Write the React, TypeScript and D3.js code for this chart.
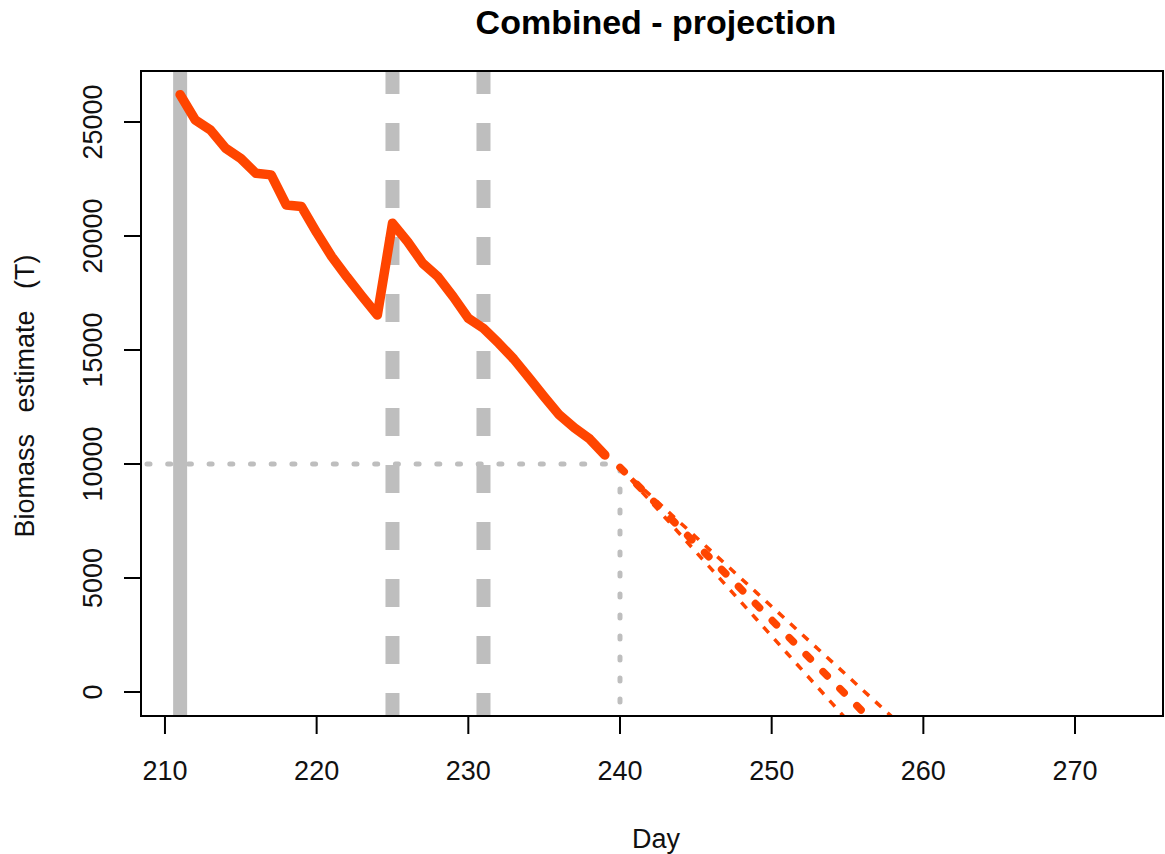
import React from "react";
import * as d3 from "d3";

// ---- data ----
const obsDays = [211, 212, 213, 214, 215, 216, 217, 218, 219, 220, 221, 222, 223, 224, 225, 226, 227, 228, 229, 230, 231, 232, 233, 234, 235, 236, 237, 238, 239];
const obsBiomass = [26200, 25090, 24650, 23850, 23400, 22750, 22680, 21360, 21290, 20150, 19090, 18200, 17350, 16530, 20560, 19750, 18800, 18210, 17340, 16390, 15950, 15300, 14600, 13780, 12950, 12150, 11580, 11100, 10390];

const projDaysFast = [240, 241, 242, 243, 244, 245, 246, 247, 248, 249, 250, 251, 252, 253, 254, 255];
const projFast = [9850, 9110, 8370, 7630, 6890, 6150, 5410, 4670, 3930, 3190, 2450, 1710, 970, 230, -510, -1250];

const projDaysMid = [240, 241, 242, 243, 244, 245, 246, 247, 248, 249, 250, 251, 252, 253, 254, 255, 256, 257];
const projMid = [9850, 9180, 8510, 7840, 7170, 6500, 5840, 5170, 4500, 3830, 3160, 2490, 1820, 1150, 480, -190, -860, -1530];

const projDaysSlow = [240, 241, 242, 243, 244, 245, 246, 247, 248, 249, 250, 251, 252, 253, 254, 255, 256, 257, 258, 259];
const projSlow = [9850, 9240, 8630, 8020, 7410, 6800, 6190, 5580, 4970, 4360, 3750, 3140, 2530, 1920, 1310, 700, 90, -520, -1130, -1740];

const solidMarkerDays = [211];
const dashedMarkerDays = [225, 231];
const thresholdBiomass = 10000;
const thresholdDay = 240;

const xTicks = [210, 220, 230, 240, 250, 260, 270];
const yTicks = [0, 5000, 10000, 15000, 20000, 25000];

const title = "Combined - projection";
const xTitle = "Day";
const yTitle = "Biomass estimate (T)";

// ---- layout ----
const W = 1165;
const H = 854;
const L = 141, R = 1163, T = 71, B = 716;
const ORANGE = "#FF4500";
const GREY = "#BEBEBE";
const FONT = "'Liberation Sans', Arial, Helvetica, sans-serif";

export default function App() {
  const x = d3.scaleLinear().domain([208.42, 275.8]).range([L, R]);
  const y = d3.scaleLinear().domain([-1053, 27237]).range([B, T]);

  const line = d3
    .line<[number, number]>()
    .x((d) => x(d[0]))
    .y((d) => y(d[1]));

  const obs = obsDays.map((d, i) => [d, obsBiomass[i]] as [number, number]);
  const fast = projDaysFast.map((d, i) => [d, projFast[i]] as [number, number]);
  const mid = projDaysMid.map((d, i) => [d, projMid[i]] as [number, number]);
  const slow = projDaysSlow.map((d, i) => [d, projSlow[i]] as [number, number]);

  const cx = 656;

  return (
    <svg
      width={W}
      height={H}
      style={{ position: "absolute", left: 0, top: 0, background: "#fff" }}
      fontFamily={FONT}
    >
      <defs>
        <clipPath id="plot">
          <rect x={L} y={T} width={R - L} height={B - T} />
        </clipPath>
      </defs>
      <rect x={0} y={0} width={W} height={H} fill="#fff" />

      <g clipPath="url(#plot)">
        {solidMarkerDays.map((d) => (
          <line key={"s" + d} x1={x(d)} x2={x(d)} y1={T} y2={B} stroke={GREY} strokeWidth={14} />
        ))}
        {dashedMarkerDays.map((d) => (
          <line
            key={"d" + d}
            x1={x(d)}
            x2={x(d)}
            y1={T}
            y2={B + 10}
            stroke={GREY}
            strokeWidth={14}
            strokeDasharray="28 29"
            strokeDashoffset={5}
          />
        ))}
        <line
          x1={L}
          x2={x(thresholdDay)}
          y1={y(thresholdBiomass)}
          y2={y(thresholdBiomass)}
          stroke={GREY}
          strokeWidth={5}
          strokeDasharray="3 17.7"
          strokeLinecap="round"
          strokeDashoffset={-6}
        />
        <line
          x1={x(thresholdDay)}
          x2={x(thresholdDay)}
          y1={y(thresholdBiomass)}
          y2={B}
          stroke={GREY}
          strokeWidth={5}
          strokeDasharray="3 18"
          strokeLinecap="round"
          strokeDashoffset={-4}
        />
        <path d={line(obs) || ""} fill="none" stroke={ORANGE} strokeWidth={9.5} strokeLinejoin="round" strokeLinecap="round" />
        <path d={line(fast) || ""} fill="none" stroke={ORANGE} strokeWidth={3.5} strokeDasharray="8 8.5" />
        <path d={line(slow) || ""} fill="none" stroke={ORANGE} strokeWidth={3.5} strokeDasharray="8 8.5" />
        <path d={line(mid) || ""} fill="none" stroke={ORANGE} strokeWidth={7.5} strokeDasharray="6 18" strokeLinecap="round" />
      </g>

      <rect x={L} y={T} width={R - L} height={B - T} fill="none" stroke="#000" strokeWidth={2} />

      {xTicks.map((t) => (
        <g key={"xt" + t}>
          <line x1={x(t)} x2={x(t)} y1={B} y2={B + 18} stroke="#000" strokeWidth={2} />
          <text x={x(t)} y={779.5} textAnchor="middle" fontSize={27} fill="#111">
            {t}
          </text>
        </g>
      ))}
      {yTicks.map((t) => (
        <g key={"yt" + t}>
          <line x1={L - 17} x2={L} y1={y(t)} y2={y(t)} stroke="#000" strokeWidth={2} />
          <text
            transform={`translate(102, ${y(t)}) rotate(-90)`}
            textAnchor="middle"
            fontSize={27}
            fill="#111"
          >
            {t}
          </text>
        </g>
      ))}

      <text x={cx} y={34} textAnchor="middle" fontSize={34} fontWeight="bold" fill="#000">
        {title}
      </text>
      <text x={cx} y={848} textAnchor="middle" fontSize={27} fill="#111">
        {xTitle}
      </text>
      <text
        transform={`translate(34, 396) rotate(-90)`}
        textAnchor="middle"
        fontSize={27}
        fill="#111"
        style={{ wordSpacing: "14px" }}
      >
        {yTitle}
      </text>
    </svg>
  );
}
